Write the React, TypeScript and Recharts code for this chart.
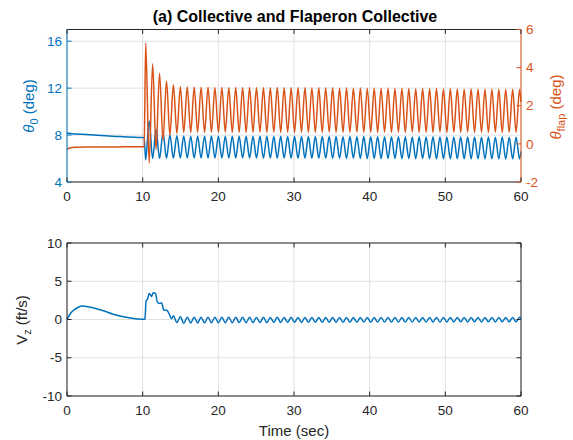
import React from 'react';
import { LineChart, Line, XAxis, YAxis, CartesianGrid, ReferenceLine } from 'recharts';

const BLUE = '#0072BD';
const ORANGE = '#D95319';
const AXIS = '#262626';
const GRID = '#e1e1e1';
const FONT = '"Liberation Sans", Arial, Helvetica, sans-serif';

const xTicks = [0, 10, 20, 30, 40, 50, 60];
const thetaTicks = [4, 8, 12, 16];
const flapTicks = [-2, 0, 2, 4, 6];
const vzTicks = [-10, -5, 0, 5, 10];

// trim phase, before the input kicks in
const preTime = [0, 0.5, 1, 1.5, 2, 3, 4, 5, 6, 7, 8, 9, 10, 10.2];
const thetaPre = [8.16, 8.13, 8.1, 8.08, 8.06, 8.02, 7.98, 7.94, 7.9, 7.87, 7.84, 7.81, 7.79, 7.78];
const flapPre = [-0.28, -0.2, -0.18, -0.18, -0.17, -0.17, -0.17, -0.16, -0.16, -0.16, -0.15, -0.15, -0.15, -0.15];
const vzPre = [0, 0.85, 1.3, 1.6, 1.75, 1.62, 1.38, 1.08, 0.72, 0.45, 0.25, 0.1, 0.03, 0.02];

// after 10.4 s: one entry per crest / trough, last one is the 60 s end point
const oscTime = [
  10.40, 10.86, 11.32, 11.77, 12.23, 12.69, 13.15, 13.60, 14.06, 14.52,
  14.98, 15.43, 15.89, 16.35, 16.81, 17.26, 17.72, 18.18, 18.64, 19.09,
  19.55, 20.01, 20.47, 20.92, 21.38, 21.84, 22.30, 22.75, 23.21, 23.67,
  24.13, 24.58, 25.04, 25.50, 25.96, 26.41, 26.87, 27.33, 27.79, 28.24,
  28.70, 29.16, 29.62, 30.07, 30.53, 30.99, 31.45, 31.90, 32.36, 32.82,
  33.28, 33.73, 34.19, 34.65, 35.11, 35.56, 36.02, 36.48, 36.94, 37.39,
  37.85, 38.31, 38.77, 39.22, 39.68, 40.14, 40.60, 41.05, 41.51, 41.97,
  42.43, 42.88, 43.34, 43.80, 44.26, 44.71, 45.17, 45.63, 46.09, 46.54,
  47.00, 47.46, 47.92, 48.37, 48.83, 49.29, 49.75, 50.20, 50.66, 51.12,
  51.58, 52.03, 52.49, 52.95, 53.41, 53.86, 54.32, 54.78, 55.24, 55.69,
  56.15, 56.61, 57.07, 57.52, 57.98, 58.44, 58.90, 59.35, 59.81, 60.00,
];
const thetaOsc = [
  5.9, 9.2, 6.0, 8.5, 6.0, 8.2, 6.02, 8.0, 6.03, 7.95,
  6.04, 7.92, 6.05, 7.9, 6.04, 7.91, 6.05, 7.9, 6.04, 7.92,
  6.05, 7.9, 6.04, 7.91, 6.05, 7.9, 6.04, 7.91, 6.05, 7.89,
  6.04, 7.9, 6.05, 7.89, 6.03, 7.9, 6.04, 7.88, 6.03, 7.89,
  6.04, 7.88, 6.03, 7.89, 6.02, 7.88, 6.03, 7.87, 6.02, 7.88,
  6.03, 7.87, 6.02, 7.88, 6.01, 7.87, 6.02, 7.86, 6.01, 7.87,
  6.02, 7.86, 6.01, 7.87, 6.0, 7.86, 6.01, 7.85, 6.0, 7.86,
  6.01, 7.85, 6.0, 7.86, 5.99, 7.85, 6.0, 7.84, 5.99, 7.85,
  6.0, 7.84, 5.99, 7.85, 5.98, 7.84, 5.99, 7.83, 5.98, 7.84,
  5.99, 7.83, 5.98, 7.84, 5.97, 7.83, 5.98, 7.82, 5.97, 7.83,
  5.98, 7.82, 5.97, 7.83, 5.97, 7.82, 5.97, 7.82, 5.97, 6.6,
];
const flapOsc = [
  5.3, -1.0, 4.2, -0.3, 3.7, 0.2, 3.3, 0.45, 3.1, 0.55,
  3.0, 0.6, 2.98, 0.6, 2.97, 0.62, 2.96, 0.6, 2.97, 0.61,
  2.95, 0.6, 2.96, 0.62, 2.95, 0.6, 2.96, 0.61, 2.95, 0.6,
  2.96, 0.6, 2.95, 0.62, 2.94, 0.6, 2.95, 0.61, 2.96, 0.6,
  2.94, 0.61, 2.95, 0.6, 2.94, 0.62, 2.95, 0.6, 2.93, 0.61,
  2.94, 0.6, 2.93, 0.62, 2.94, 0.6, 2.92, 0.61, 2.93, 0.6,
  2.92, 0.62, 2.93, 0.6, 2.91, 0.61, 2.92, 0.6, 2.91, 0.62,
  2.92, 0.6, 2.9, 0.61, 2.91, 0.6, 2.9, 0.62, 2.89, 0.6,
  2.9, 0.61, 2.89, 0.6, 2.9, 0.62, 2.88, 0.6, 2.89, 0.61,
  2.88, 0.6, 2.87, 0.62, 2.88, 0.6, 2.87, 0.61, 2.86, 0.6,
  2.87, 0.62, 2.86, 0.6, 2.85, 0.61, 2.86, 0.6, 2.85, 2.2,
];

// Vz kick right after 10 s, read more finely (ends where the steady ripple starts)
const vzKickTime = [10.2, 10.3, 10.45, 10.65, 10.87, 11.05, 11.18, 11.4, 11.7, 11.93, 12.19, 12.5, 12.8, 13.07, 13.29, 13.47, 13.82, 14.06, 14.52];
const vzKick = [0.02, 0.1, 2.4, 2.7, 3.4, 3.2, 3.0, 3.5, 3.4, 2.3, 2.1, 2.2, 1.2, 1.25, 1.1, 0.8, 0.1, 0.5, -0.4];
// steady Vz ripple, on oscTime from 14.98 s on
const vzOsc = [
  0.35, -0.5, 0.3, -0.45, 0.3, -0.45, 0.28, -0.44, 0.3, -0.43,
  0.28, -0.42, 0.29, -0.42, 0.28, -0.41, 0.29, -0.4, 0.28, -0.41,
  0.28, -0.4, 0.27, -0.39, 0.28, -0.4, 0.27, -0.38, 0.28, -0.39,
  0.27, -0.38, 0.28, -0.37, 0.27, -0.38, 0.26, -0.37, 0.27, -0.36,
  0.26, -0.37, 0.27, -0.36, 0.26, -0.35, 0.27, -0.36, 0.26, -0.35,
  0.27, -0.35, 0.26, -0.34, 0.27, -0.35, 0.26, -0.34, 0.27, -0.33,
  0.26, -0.34, 0.27, -0.33, 0.26, -0.34, 0.27, -0.33, 0.26, -0.32,
  0.27, -0.33, 0.26, -0.32, 0.27, -0.33, 0.26, -0.32, 0.27, -0.32,
  0.26, -0.31, 0.27, -0.32, 0.26, -0.31, 0.27, -0.32, 0.26, -0.31,
  0.27, -0.32, 0.26, -0.31, 0.27, -0.31, 0.26, -0.31, 0.28, 0.15,
];

const topRows = [
  ...preTime.map((t, i) => ({ t, theta: thetaPre[i], flap: flapPre[i] })),
  ...oscTime.map((t, i) => ({ t, theta: thetaOsc[i], flap: flapOsc[i] })),
];
const vzTail = oscTime.slice(oscTime.length - vzOsc.length);
const bottomRows = [
  ...preTime.slice(0, -1).map((t, i) => ({ t, vz: vzPre[i] })),
  ...vzKickTime.map((t, i) => ({ t, vz: vzKick[i] })),
  ...vzTail.map((t, i) => ({ t, vz: vzOsc[i] })),
];

// layout
const W = 573;
const LEFT = 67;
const RIGHT = 521;
const TL = 4.5; // tick length, drawn inward like matlab

const xTick = (top: number, bottom: number) => (p: any) => (
  <g>
    <line x1={p.x} x2={p.x} y1={bottom} y2={bottom - TL} stroke={AXIS} />
    <line x1={p.x} x2={p.x} y1={top} y2={top + TL} stroke={AXIS} />
    <text x={p.x} y={bottom + 19} textAnchor="middle" fill={AXIS} fontSize={13.5} fontFamily={FONT}>
      {p.payload.value}
    </text>
  </g>
);

const leftTick = (color: string, both: boolean) => (p: any) => (
  <g>
    <line x1={LEFT} x2={LEFT + TL} y1={p.y} y2={p.y} stroke={color} />
    {both && <line x1={RIGHT - TL} x2={RIGHT} y1={p.y} y2={p.y} stroke={color} />}
    <text x={LEFT - 5} y={p.y} dy="0.35em" textAnchor="end" fill={color} fontSize={13.5} fontFamily={FONT}>
      {p.payload.value}
    </text>
  </g>
);

const rightTick = (p: any) => (
  <g>
    <line x1={RIGHT - TL} x2={RIGHT} y1={p.y} y2={p.y} stroke={ORANGE} />
    <text x={RIGHT + 5} y={p.y} dy="0.35em" textAnchor="start" fill={ORANGE} fontSize={13.5} fontFamily={FONT}>
      {p.payload.value}
    </text>
  </g>
);

const TOP_H = 215;
const T_TOP = 29.5;
const T_BOT = 182;
const BOT_H = 225;
const B_TOP = 28;
const B_BOT = 181;

export default function App() {
  return (
    <div style={{ position: 'absolute', left: 0, top: 0, width: W, height: 440, background: '#fff' }}>
      <div style={{ position: 'absolute', left: 0, top: 0 }}>
        <LineChart width={W} height={TOP_H} data={topRows} margin={{ top: T_TOP, right: 0, bottom: 0, left: 0 }}>
          <CartesianGrid stroke={GRID} yAxisId="l" />
          <XAxis
            dataKey="t"
            type="number"
            domain={[0, 60]}
            ticks={xTicks}
            interval={0}
            height={TOP_H - T_BOT}
            axisLine={{ stroke: AXIS }}
            tickLine={false}
            tick={xTick(T_TOP, T_BOT)}
          />
          <YAxis
            yAxisId="l"
            type="number"
            domain={[4, 17]}
            ticks={thetaTicks}
            interval={0}
            width={LEFT}
            axisLine={{ stroke: BLUE }}
            tickLine={false}
            tick={leftTick(BLUE, false)}
          />
          <YAxis
            yAxisId="r"
            orientation="right"
            type="number"
            domain={[-2, 6]}
            ticks={flapTicks}
            interval={0}
            width={W - RIGHT}
            axisLine={{ stroke: ORANGE }}
            tickLine={false}
            tick={rightTick}
          />
          <ReferenceLine yAxisId="l" y={17} stroke={AXIS} />
          <Line yAxisId="l" dataKey="theta" type="monotone" stroke={BLUE} strokeWidth={1.5} dot={false} isAnimationActive={false} />
          <Line yAxisId="r" dataKey="flap" type="monotone" stroke={ORANGE} strokeWidth={1.5} dot={false} isAnimationActive={false} />
        </LineChart>
      </div>
      <div style={{ position: 'absolute', left: 0, top: TOP_H }}>
        <LineChart width={W} height={BOT_H} data={bottomRows} margin={{ top: B_TOP, right: W - RIGHT, bottom: 0, left: 0 }}>
          <CartesianGrid stroke={GRID} />
          <XAxis
            dataKey="t"
            type="number"
            domain={[0, 60]}
            ticks={xTicks}
            interval={0}
            height={BOT_H - B_BOT}
            axisLine={{ stroke: AXIS }}
            tickLine={false}
            tick={xTick(B_TOP, B_BOT)}
          />
          <YAxis
            type="number"
            domain={[-10, 10]}
            ticks={vzTicks}
            interval={0}
            width={LEFT}
            axisLine={{ stroke: AXIS }}
            tickLine={false}
            tick={leftTick(AXIS, true)}
          />
          <ReferenceLine y={10} stroke={AXIS} />
          <ReferenceLine x={60} stroke={AXIS} />
          <Line dataKey="vz" type="monotone" stroke={BLUE} strokeWidth={1.5} dot={false} isAnimationActive={false} />
        </LineChart>
      </div>
      <svg width={W} height={440} style={{ position: 'absolute', left: 0, top: 0, pointerEvents: 'none' }} fontFamily={FONT}>
        <text x={295} y={22} textAnchor="middle" fontSize={16} fontWeight="bold" fill="#000">
          (a) Collective and Flaperon Collective
        </text>
        <text transform="translate(34,106) rotate(-90)" textAnchor="middle" fontSize={15} fill={BLUE}>
          <tspan fontStyle="italic">θ</tspan>
          <tspan fontSize={11} dy={4}>0</tspan>
          <tspan dy={-4}> (deg)</tspan>
        </text>
        <text transform="translate(561,107) rotate(-90)" textAnchor="middle" fontSize={15} fill={ORANGE}>
          <tspan fontStyle="italic">θ</tspan>
          <tspan fontSize={11} dy={4}>flap</tspan>
          <tspan dy={-4}> (deg)</tspan>
        </text>
        <text transform="translate(27,320) rotate(-90)" textAnchor="middle" fontSize={15} fill={AXIS}>
          <tspan>V</tspan>
          <tspan fontSize={11} dy={4}>z</tspan>
          <tspan dy={-4}> (ft/s)</tspan>
        </text>
        <text x={294} y={436} textAnchor="middle" fontSize={15} fill={AXIS}>
          Time (sec)
        </text>
      </svg>
    </div>
  );
}
